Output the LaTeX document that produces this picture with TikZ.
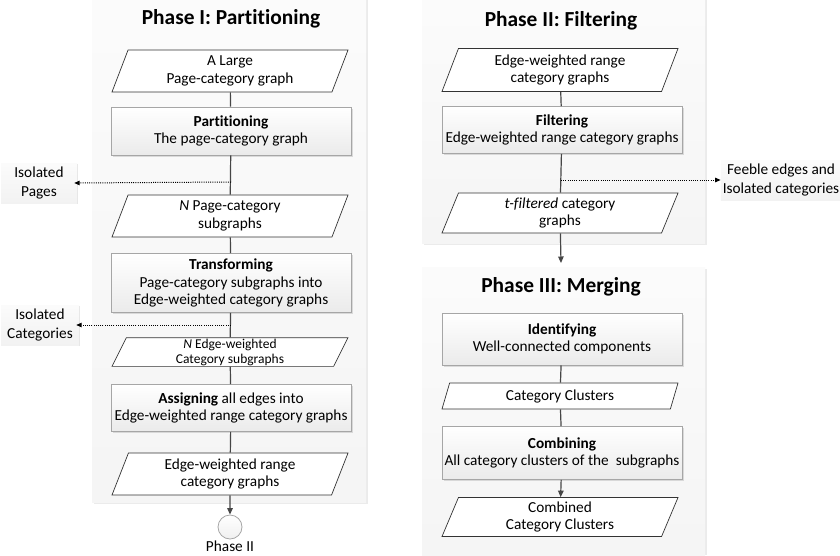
\documentclass[tikz,border=0pt]{standalone}
\usepackage{fontspec}
\setmainfont{Carlito}[Ligatures=NoCommon]
\usetikzlibrary{shapes.geometric,arrows.meta,shadows}

\begin{document}
\begin{tikzpicture}[x=1pt,y=-1pt,
  panelshade/.style={fill=gray!16},
  panel/.style={top color=gray!3, bottom color=gray!8},
  proc/.style={rectangle, draw=gray!70, line width=0.8pt, top color=white, bottom color=gray!16,
    minimum width=240pt, align=center, inner sep=2pt,
    drop shadow={shadow xshift=1.5pt, shadow yshift=-1.5pt, opacity=0.25},
    font=\fontsize{15.3}{17.6}\selectfont},
  data/.style={trapezium, trapezium left angle=63.4, trapezium right angle=116.6,
    trapezium stretches body, draw=black!80, line width=0.7pt, fill=white,
    minimum width=236pt, align=center, inner sep=1pt,
    font=\fontsize{15.3}{17.6}\selectfont},
  side/.style={rectangle, top color=gray!3, bottom color=gray!10, align=center,
    inner sep=2pt, drop shadow={shadow xshift=1.2pt, shadow yshift=-1.2pt, opacity=0.2},
    font=\fontsize{15.3}{18.5}\selectfont},
  heading/.style={font=\fontsize{21.4}{25}\selectfont\bfseries},
  flow/.style={draw=gray!55!black, line width=1.2pt},
  flowarrow/.style={flow, -{Triangle[length=6.5pt,width=5.5pt]}},
  leak/.style={black, line width=1pt, dash pattern=on 1pt off 1.2pt, shorten >=1pt,
    -{Triangle[length=5.5pt,width=4.5pt]}}
]
\useasboundingbox (0,0) rectangle (840,555);

% panel backgrounds
\fill[panelshade] (94,0) rectangle (368,504);
\fill[panel] (92,0) rectangle (366,502);
\fill[panelshade] (424,0) rectangle (707,245);
\fill[panel] (422,0) rectangle (705,243);
\fill[panelshade] (424,269) rectangle (707,555);
\fill[panel] (422,267) rectangle (705,555);

% Phase I
\node[heading] (t1) at (231,19) {Phase I: Partitioning};
\node[data, minimum height=42pt] (p1) at (230,71) {A Large\\Page-category graph};
\node[proc, minimum height=48pt] (r1) at (231,131) {\textbf{Partitioning}\\The page-category graph};
\node[data, minimum height=42pt] (p2) at (230,216) {\textit{N} Page-category\\subgraphs};
\node[proc, minimum height=59pt] (r2) at (231,283) {\textbf{Transforming}\\Page-category subgraphs into\\Edge-weighted category graphs};
\node[data, minimum height=28pt, font=\fontsize{13.5}{15}\selectfont] (p3) at (230,352) {\textit{N} Edge-weighted\\Category subgraphs};
\node[proc, minimum height=47pt] (r3) at (231,408) {\textbf{Assigning} all edges into\\Edge-weighted range category graphs};
\node[data, minimum height=42pt] (p4) at (230,474) {Edge-weighted range\\category graphs};
\node[circle, draw=gray!70, line width=0.8pt, top color=white, bottom color=gray!12,
      minimum size=24pt, inner sep=0pt] (c1) at (230,527) {};
\node[font=\fontsize{15.3}{17.6}\selectfont] (c1l) at (230,546) {Phase II};

\node[side, minimum width=76pt, minimum height=40pt] (isoP) at (39,183) {Isolated\\Pages};
\node[side, minimum width=78pt, minimum height=40pt] (isoC) at (40,325) {Isolated\\Categories};

\coordinate (d1) at (231,182);
\coordinate (d2) at (231,325);

\draw[flow] (p1) -- (r1);
\draw[flow] (r1) -- (p2);
\draw[flow] (p2) -- (r2);
\draw[flow] (r2) -- (p3);
\draw[flow] (p3) -- (r3);
\draw[flow] (r3) -- (p4);
\draw[flowarrow] (p4) -- (c1);
\draw[leak] (d1) -- ([xshift=-4pt]isoP.east);
\draw[leak] (d2) -- ([xshift=-4pt]isoC.east);

% Phase II
\node[heading] (t2) at (561,21) {Phase II: Filtering};
\node[data, minimum height=43pt] (q1) at (560,70) {Edge-weighted range\\category graphs};
\node[proc, minimum height=47pt] (s1) at (562,130) {\textbf{Filtering}\\Edge-weighted range category graphs};
\node[data, minimum height=40pt] (q2) at (560,213) {\textit{t-filtered} category\\graphs};
\node[side, minimum width=118pt, minimum height=40pt] (feeble) at (781,180) {Feeble edges and\\Isolated categories};
\coordinate (d3) at (561,180);
\coordinate (p3top) at (561,263);

\draw[flow] (q1) -- (s1);
\draw[flow] (s1) -- (q2);
\draw[flowarrow] (q2) -- (p3top);
\draw[leak] (d3) -- ([xshift=1pt]feeble.west);

% Phase III
\node[heading] (t3) at (561,287) {Phase III: Merging};
\node[proc, minimum height=52pt] (s2) at (562,339) {\textbf{Identifying}\\Well-connected components};
\node[data, minimum height=26pt] (q3) at (560,396) {Category Clusters};
\node[proc, minimum height=53pt] (s3) at (562,453) {\textbf{Combining}\\All category clusters of the\ \ subgraphs};
\node[data, minimum height=39pt] (q4) at (560,517) {Combined\\Category Clusters};

\draw[flow] (s2) -- (q3);
\draw[flow] (q3) -- (s3);
\draw[flowarrow] (s3) -- (q4);
\end{tikzpicture}
\end{document}
